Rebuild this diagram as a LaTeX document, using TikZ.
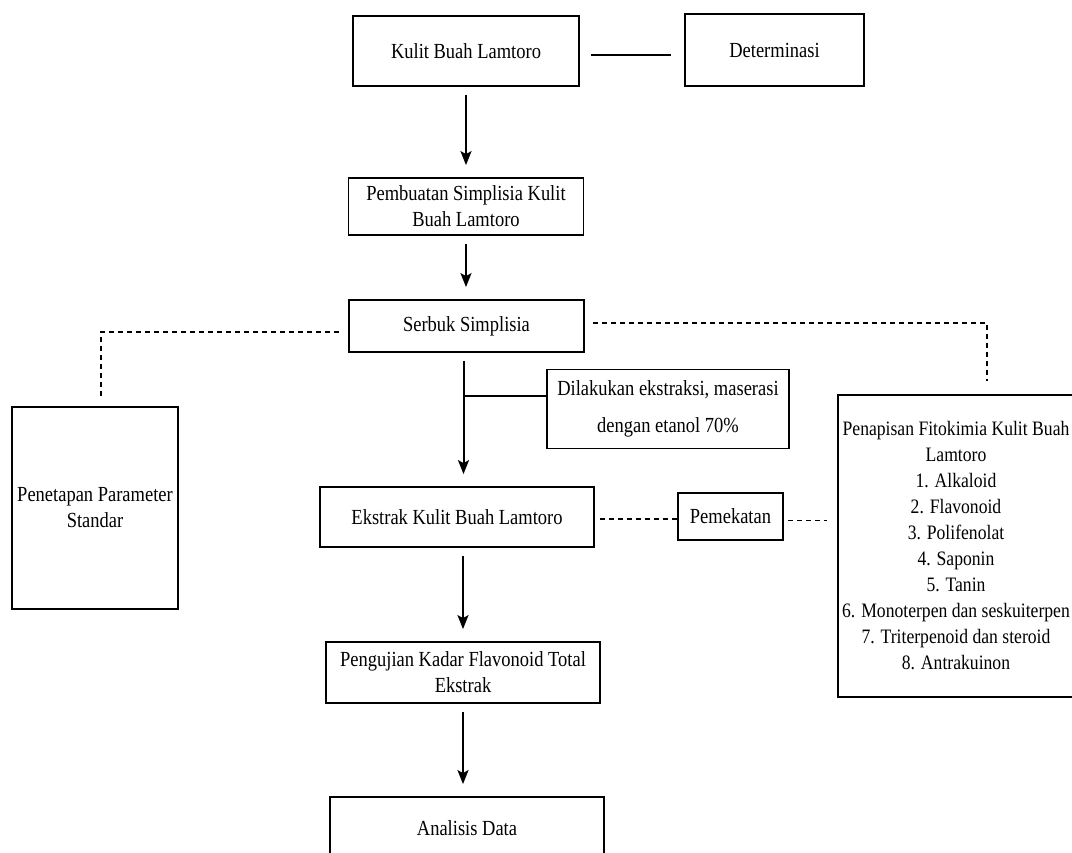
\documentclass[tikz,border=0pt]{standalone}
\usepackage{fontspec}
\setmainfont{Liberation Serif}[FakeStretch=0.86]
\usetikzlibrary{arrows.meta}

\begin{document}
\begin{tikzpicture}[x=1pt,y=1pt,
  box node/.style={draw,line width=1.8pt,inner sep=3pt,align=center,
    font=\fontsize{21.5}{26}\selectfont},
  flow/.style={line width=2pt,-{Stealth[length=14pt,width=11pt,inset=3pt]},
    shorten <=8pt,shorten >=12pt},
  plain link/.style={line width=2pt},
  dash link/.style={line width=1.5pt,dash pattern=on 5pt off 4pt}]
  \clip (0,0) rectangle (1072,-853);

  \node[box node,minimum width=226pt,minimum height=70pt] (kulit) at (466,-51) {Kulit Buah Lamtoro};
  \node[box node,minimum width=179pt,minimum height=72pt] (det) at (774.5,-50) {Determinasi};
  \node[box node,minimum width=235pt,minimum height=57pt] (pembuatan) at (466,-206.5) {Pembuatan Simplisia Kulit\\Buah Lamtoro};
  \node[box node,minimum width=235pt,minimum height=52pt] (serbuk) at (466.5,-326) {Serbuk Simplisia};
  \node[box node,minimum width=166pt,minimum height=202pt] (penetapan) at (95,-508) {Penetapan Parameter\\Standar};
  \node[box node,minimum width=242pt,minimum height=79pt] (maserasi) at (668,-409) {Dilakukan ekstraksi, maserasi\\[11pt]dengan etanol 70\%};
  \node[box node,minimum width=274pt,minimum height=60pt] (ekstrak) at (457,-517) {Ekstrak Kulit Buah Lamtoro};
  \node[box node,minimum width=105pt,minimum height=47pt] (pemekatan) at (730.5,-516.5) {Pemekatan};
  \node[box node,minimum width=236pt,minimum height=302pt,font=\fontsize{20.5}{26}\selectfont] (penapisan) at (956,-546) {Penapisan Fitokimia Kulit Buah\\Lamtoro\\1. Alkaloid\\2. Flavonoid\\3. Polifenolat\\4. Saponin\\5. Tanin\\6. Monoterpen dan seskuiterpen\\7. Triterpenoid dan steroid\\8. Antrakuinon};
  \node[box node,minimum width=274pt,minimum height=61pt] (pengujian) at (463,-672.5) {Pengujian Kadar Flavonoid Total\\Ekstrak};
  \node[box node,minimum width=274pt,minimum height=62pt] (analisis) at (467,-828) {Analisis Data};

  % main flow
  \draw[flow] (kulit.south) -- (kulit.south |- pembuatan.north);
  \draw[flow] (pembuatan.south) -- (pembuatan.south |- serbuk.north);
  \draw[flow] ([xshift=-3pt]serbuk.south) -- ([xshift=-3pt]serbuk.south |- ekstrak.north);
  \draw[flow] (pengujian.north |- ekstrak.south) -- (pengujian.north);
  \draw[flow] (pengujian.south) -- (pengujian.south |- analisis.north);

  % side links
  \draw[plain link,shorten <=11pt,shorten >=13pt] ([yshift=-4pt]kulit.east) -- ([yshift=-5pt]det.west);
  \draw[plain link] ([yshift=13.5pt]maserasi.west) -- ([xshift=-3pt,yshift=13.5pt]serbuk.south |- maserasi.west);
  \draw[dash link,shorten <=9pt,shorten >=10pt] ([yshift=-6pt]serbuk.west) -| ([xshift=6pt]penetapan.north);
  \draw[dash link,shorten <=8pt,shorten >=13pt] ([yshift=3pt]serbuk.east) -| ([xshift=31pt]penapisan.north);
  \draw[dash link,shorten <=5pt] ([yshift=-2pt]ekstrak.east) -- ([yshift=-2pt]ekstrak.east -| pemekatan.west);
  \draw[dash link,shorten <=4pt,shorten >=10pt] ([yshift=-4pt]pemekatan.east) -- ([yshift=-4pt]pemekatan.east -| penapisan.west);
\end{tikzpicture}
\end{document}
